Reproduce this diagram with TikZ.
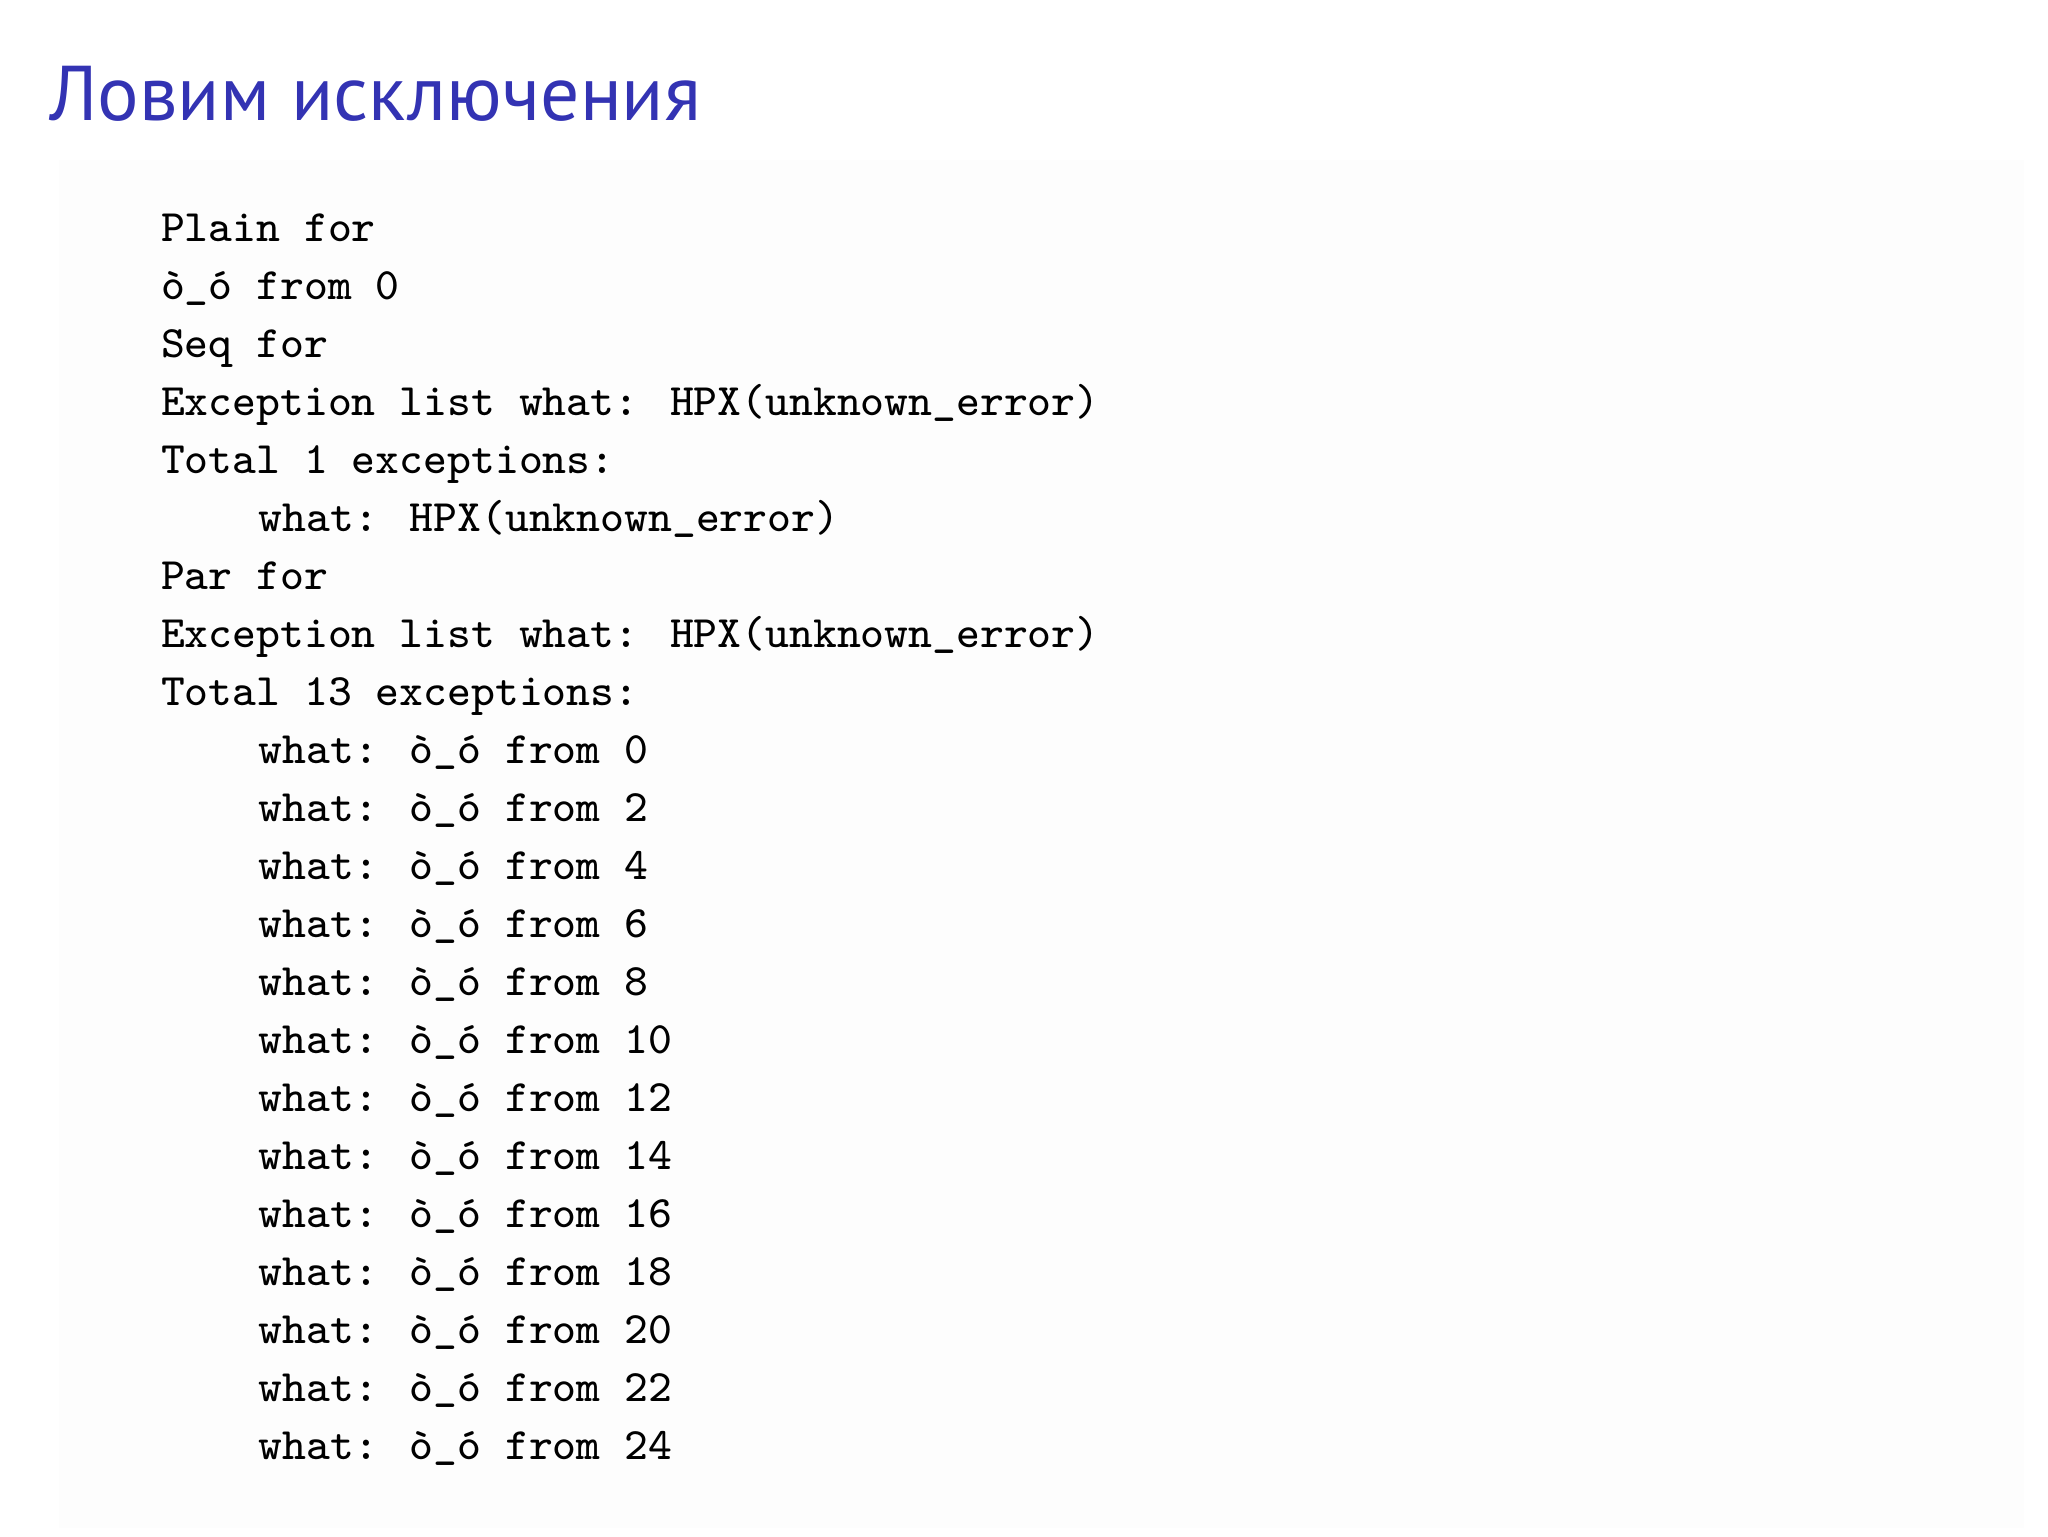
\documentclass[tikz,border=0pt]{standalone}
\usepackage{fontspec}
\newfontfamily\titlefont{PT Sans}
\definecolor{struct}{RGB}{51,51,179}
\begin{document}
\begin{tikzpicture}[line/.style={anchor=base west,inner sep=0pt,font=\ttfamily\fontsize{7.99}{10}\selectfont}]
\useasboundingbox (0,0) rectangle (12.8,9.6);
\fill[gray!1.2] (0.37,0.05) rectangle (12.65,8.6);
\node[anchor=base west,inner sep=0pt,text=struct,font=\titlefont\fontsize{13.8}{16}\selectfont] (title) at (0.3,8.85) {Ловим исключения};
\foreach \t [count=\i] in {Plain for,ò\_ó from 0,Seq for,Exception list what: HPX(unknown\_error),Total 1 exceptions:}
  \node[line] (a\i) at (1.0,{8.09-(\i-1)*0.3625}) {\t};
\node[line] (b1) at (1.61,{8.09-5*0.3625}) {what: HPX(unknown\_error)};
\foreach \t [count=\i] in {Par for,Exception list what: HPX(unknown\_error),Total 13 exceptions:}
  \node[line] (c\i) at (1.0,{8.09-(\i+5)*0.3625}) {\t};
\foreach \n [count=\i] in {0,2,4,6,8,10,12,14,16,18,20,22,24}
  \node[line] (d\i) at (1.61,{8.09-(\i+8)*0.3625}) {what: ò\_ó from \n};
\end{tikzpicture}
\end{document}
